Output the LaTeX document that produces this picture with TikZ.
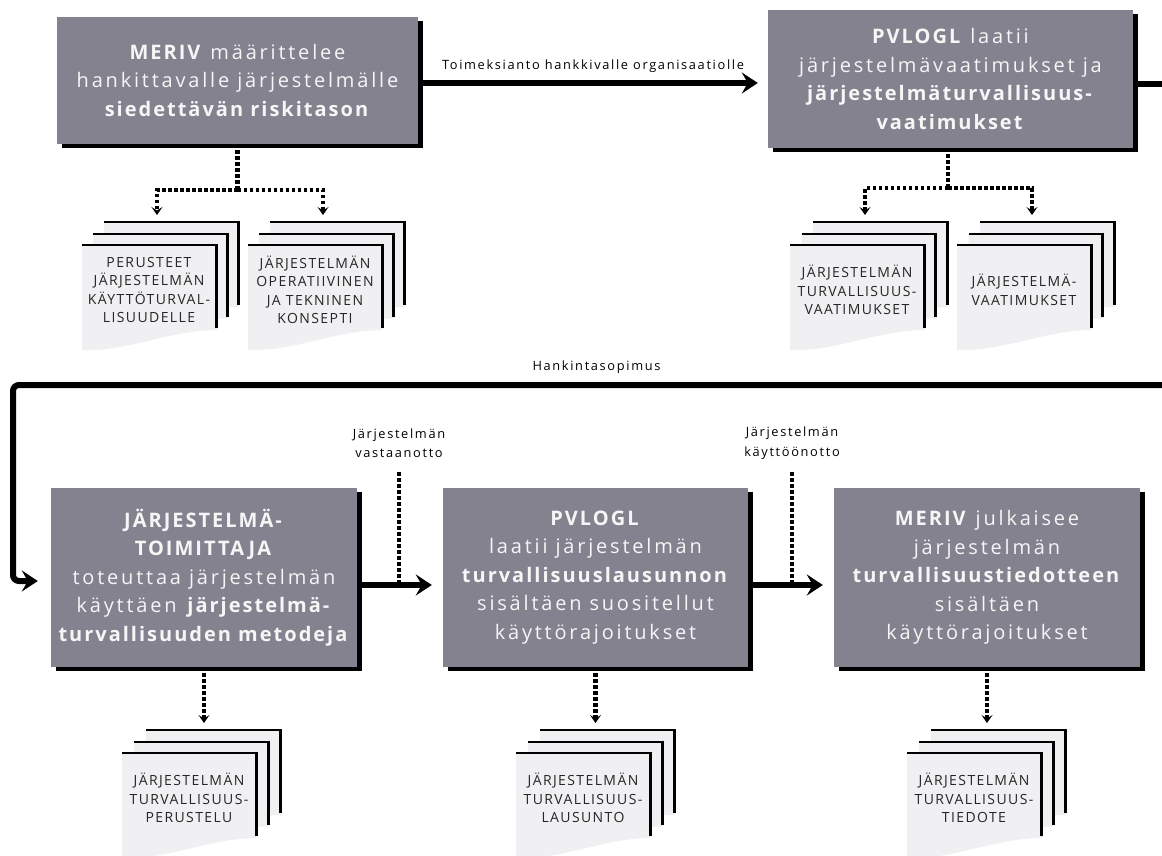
\documentclass[tikz,border=0pt]{standalone}
\usepackage{fontspec}
\setmainfont{Open Sans}
\newfontfamily\boxfont[UprightFeatures={LetterSpace=14},BoldFeatures={LetterSpace=10}]{Open Sans}
\newfontfamily\docfont[LetterSpace=10]{Open Sans}
\newfontfamily\lblfont[LetterSpace=13]{Open Sans}
\usetikzlibrary{arrows.meta,shadows,calc}
\definecolor{boxgray}{RGB}{132,130,143}
\definecolor{docfill}{RGB}{240,240,242}
\definecolor{boxtext}{RGB}{246,246,246}
\tikzset{
  procbox/.style={fill=boxgray, text=boxtext, align=center, inner sep=0pt,
    font=\boxfont\fontsize{20}{28.5}\selectfont,
    drop shadow={shadow xshift=5pt, shadow yshift=-4pt, fill=black, opacity=1}},
  mainline/.style={line width=6pt, draw=black},
  mainarrow/.style={mainline, -{Stealth[length=16pt,width=21pt,inset=6pt]}},
  dotline/.style={line width=4.5pt, dash pattern=on 3.5pt off 2.5pt},
  dotarrow/.style={dotline, -{Stealth[length=8pt,width=11pt,inset=3.5pt]}},
  doctext/.style={align=center, font=\docfont\fontsize{14}{18.5}\selectfont, text=black!85, inner sep=0pt},
  lbl/.style={align=center, font=\lblfont\fontsize{12.8}{19.5}\selectfont, inner sep=0pt},
}
\newcommand\docpage[2]{%
  \fill[docfill] ({#1},{#2}) -- ({#1+135},{#2}) -- ({#1+135},{#2+85})
     .. controls ({#1+88},{#2+85}) and ({#1+45},{#2+107}) .. ({#1},{#2+105}) -- cycle;
  \draw[line width=2pt] ({#1},{#2}) -- ({#1+135},{#2});
  \draw[line width=3pt] ({#1+134},{#2-1}) -- ({#1+134},{#2+83});
}
\newcommand\docstack[5]{% name, x, y, step, text
  \docpage{#2+2*#4}{#3-23}
  \docpage{#2+#4}{#3-11.5}
  \docpage{#2}{#3}
  \node[doctext] (#1) at ({#2+67},{#3+45}) {#5};
  \coordinate (#1t) at ({#2+75},{#3-30});
}
\begin{document}
\begin{tikzpicture}[x=1pt,y=-1pt]
\useasboundingbox (0,0) rectangle (1162,856);
\fill[white] (0,0) rectangle (1162,856);

% process boxes
\node[procbox, minimum width=361pt, minimum height=127pt] (b1) at (237.5,80.5)
  {\textbf{MERIV} määrittelee\\hankittavalle järjestelmälle\\\textbf{siedettävän riskitason}};
\node[procbox, minimum width=365pt, minimum height=138pt] (b2) at (950.5,79)
  {\textbf{PVLOGL} laatii\\järjestelmävaatimukset ja\\\textbf{järjestelmäturvallisuus-}\\\textbf{vaatimukset}};
\node[procbox, minimum width=306pt, minimum height=179pt] (b3) at (204,577.5)
  {\textbf{JÄRJESTELMÄ-}\\\textbf{TOIMITTAJA}\\toteuttaa järjestelmän\\käyttäen \textbf{järjestelmä-}\\\textbf{turvallisuuden metodeja}};
\node[procbox, minimum width=305pt, minimum height=179pt] (b4) at (595.5,577.5)
  {\textbf{PVLOGL}\\laatii järjestelmän\\\textbf{turvallisuuslausunnon}\\sisältäen suositellut\\käyttörajoitukset};
\node[procbox, minimum width=306pt, minimum height=179pt] (b5) at (987,577.5)
  {\textbf{MERIV} julkaisee\\järjestelmän\\\textbf{turvallisuustiedotteen}\\sisältäen\\käyttörajoitukset};

% labels
\node[lbl] (ltoim) at (593,66) {Toimeksianto hankkivalle organisaatiolle};
\node[lbl] (lhank) at (596.5,367) {Hankintasopimus};
\node[lbl] (lvast) at (399,443) {Järjestelmän\\vastaanotto};
\node[lbl] (lkayt) at (792,443) {Järjestelmän\\käyttöönotto};

% main flow
\draw[mainarrow, shorten >=10pt] (b1.east |- 0,83) -- (b2.west |- 0,83);
\coordinate (eR) at (1175,84);
\draw[mainline] (b2.east |- eR) -- (eR);
\coordinate (hR) at (1175,385);
\coordinate (hL) at (13,385);
\draw[mainarrow, rounded corners=6pt, shorten >=13pt] (hR) -- (hL) |- ($(b3.west)+(0,3.5)$);
\draw[mainarrow, shorten >=11pt] (b3.east |- 0,585) -- (b4.west |- 0,585);
\draw[mainarrow, shorten >=11pt] (b4.east |- 0,585) -- (b5.west |- 0,585);

% milestone dotted markers
\coordinate (v1) at (399,472);
\coordinate (v2) at (792,472);
\draw[dotline] (v1) -- (v1 |- 0,582);
\draw[dotline] (v2) -- (v2 |- 0,582);

% documents
\docstack{d11}{82}{245}{11}{PERUSTEET\\JÄRJESTELMÄN\\KÄYTTÖTURVAL-\\LISUUDELLE}
\docstack{d12}{248}{245}{11}{JÄRJESTELMÄN\\OPERATIIVINEN\\JA TEKNINEN\\KONSEPTI}
\docstack{d21}{790}{245}{11.5}{JÄRJESTELMÄN\\TURVALLISUUS-\\VAATIMUKSET}
\docstack{d22}{957}{245}{11.5}{JÄRJESTELMÄ-\\VAATIMUKSET}
\docstack{d3}{122}{753}{12}{JÄRJESTELMÄN\\TURVALLISUUS-\\PERUSTELU}
\docstack{d4}{516}{753}{12}{JÄRJESTELMÄN\\TURVALLISUUS-\\LAUSUNTO}
\docstack{d5}{907}{753}{12}{JÄRJESTELMÄN\\TURVALLISUUS-\\TIEDOTE}

% dotted document connectors
\coordinate (j1) at (b1.south |- 0,190);
\draw[dotline] (b1.south) -- (j1);
\draw[dotarrow] (j1) -| (d11t);
\draw[dotarrow] (j1) -| (d12t);
\coordinate (j2) at (948,188);
\draw[dotline] (b2.south -| j2) -- (j2);
\draw[dotarrow] (j2) -| (d21t);
\draw[dotarrow] (j2) -| (d22t);
\draw[dotarrow] (b3.south) -- (b3.south |- d3t);
\draw[dotarrow] (b4.south) -- (b4.south |- d4t);
\draw[dotarrow] (b5.south) -- (b5.south |- d5t);
\end{tikzpicture}
\end{document}
